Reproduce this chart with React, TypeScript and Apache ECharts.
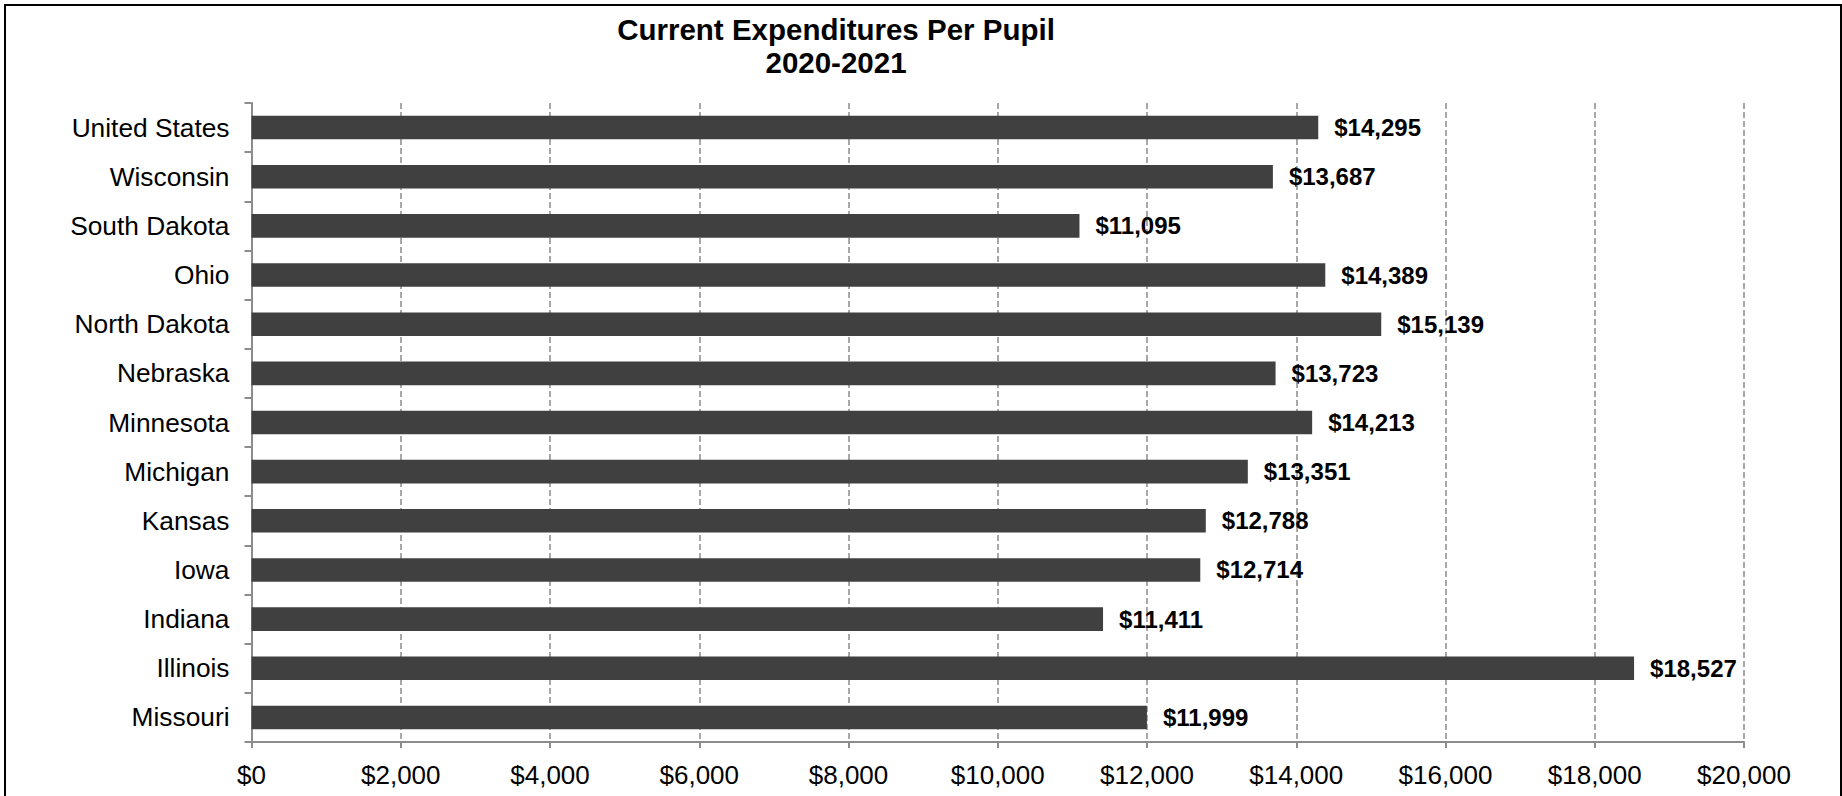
import React, { useEffect, useRef } from "react";
import * as echarts from "echarts";

const categories = [
  "United States",
  "Wisconsin",
  "South Dakota",
  "Ohio",
  "North Dakota",
  "Nebraska",
  "Minnesota",
  "Michigan",
  "Kansas",
  "Iowa",
  "Indiana",
  "Illinois",
  "Missouri",
];
const values = [14295, 13687, 11095, 14389, 15139, 13723, 14213, 13351, 12788, 12714, 11411, 18527, 11999];
const titleLines = ["Current Expenditures Per Pupil", "2020-2021"];
const axisMin = 0;
const axisMax = 20000;
const axisStep = 2000;

const FONT = '"Liberation Sans", Arial, sans-serif';
const fmt = (v: number) => "$" + v.toLocaleString("en-US");

export default function App() {
  const ref = useRef<HTMLDivElement>(null);
  useEffect(() => {
    document.body.style.margin = "0";
    const chart = echarts.init(ref.current!, null, { renderer: "svg" });
    chart.setOption({
      animation: false,
      backgroundColor: "#ffffff",
      textStyle: { fontFamily: FONT },
      graphic: [
        {
          type: "rect",
          shape: { x: 5, y: 5, width: 1836, height: 810 },
          style: { fill: "none", stroke: "#000", lineWidth: 2 },
          silent: true,
        },
        {
          type: "text",
          x: 836,
          y: 29.5,
          style: {
            text: titleLines[0],
            font: `bold 29.5px ${FONT}`,
            fill: "#000",
            textAlign: "center",
            textVerticalAlign: "middle",
          },
        },
        {
          type: "text",
          x: 836,
          y: 62.5,
          style: {
            text: titleLines[1],
            font: `bold 29.5px ${FONT}`,
            fill: "#000",
            textAlign: "center",
            textVerticalAlign: "middle",
          },
        },
      ],
      grid: { left: 251.5, right: 98, top: 103, bottom: 54, containLabel: false },
      xAxis: {
        type: "value",
        min: axisMin,
        max: axisMax,
        interval: axisStep,
        axisLine: { show: true, lineStyle: { color: "#8c8c8c", width: 2 } },
        axisTick: { show: true, length: 6, lineStyle: { color: "#8c8c8c", width: 2 } },
        axisLabel: {
          formatter: (v: number) => fmt(v),
          fontSize: 26,
          color: "#000",
          fontFamily: FONT,
          margin: 20,
        },
        splitLine: {
          show: true,
          lineStyle: { color: "#8c8c8c", width: 1.5, type: [6, 3] },
        },
      },
      yAxis: {
        type: "category",
        data: categories,
        inverse: true,
        axisLine: { show: true, lineStyle: { color: "#8c8c8c", width: 2 } },
        axisTick: { show: true, length: 7, lineStyle: { color: "#8c8c8c", width: 2 } },
        axisLabel: { fontSize: 26.3, color: "#000", fontFamily: FONT, margin: 22 },
        splitLine: { show: false },
      },
      series: [
        {
          type: "bar",
          data: values,
          barCategoryGap: "52%",
          itemStyle: { color: "#404040" },
          label: {
            show: true,
            position: "right",
            distance: 16,
            formatter: (p: any) => fmt(p.value),
            fontSize: 24,
            fontWeight: "bold",
            color: "#000",
            fontFamily: FONT,
          },
        },
      ],
    });
    return () => chart.dispose();
  }, []);
  return (
    <div
      ref={ref}
      style={{ position: "absolute", left: 0, top: 0, width: 1842, height: 796 }}
    />
  );
}
